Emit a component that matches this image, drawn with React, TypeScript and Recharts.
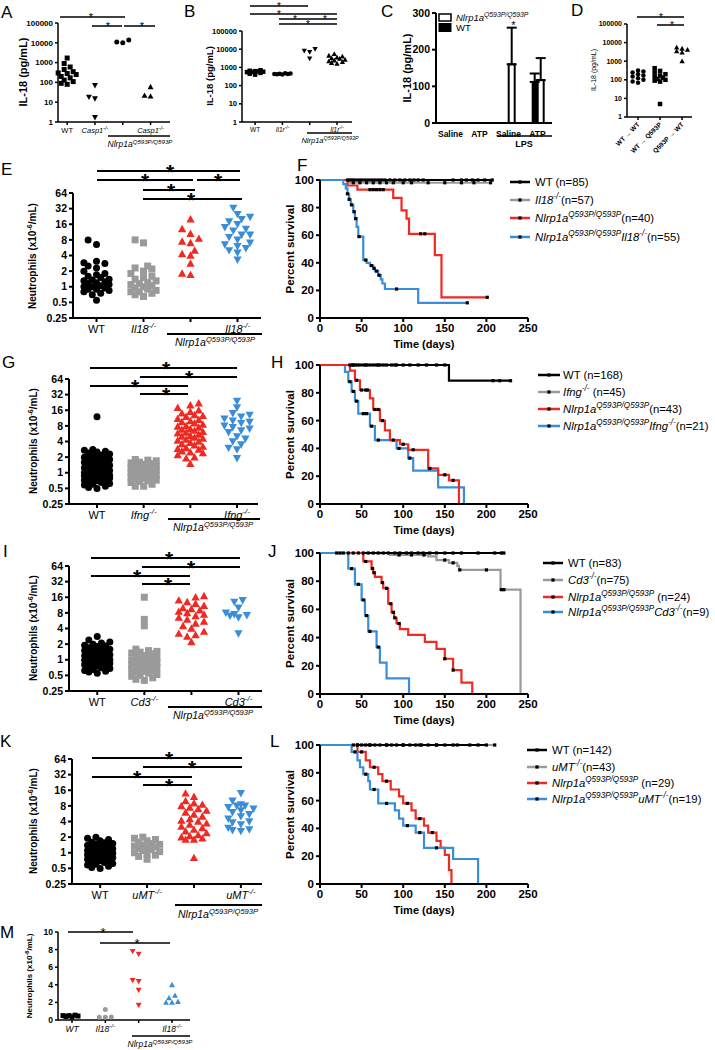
import React from "react";
import {
  ScatterChart,
  Scatter,
  XAxis,
  YAxis,
  BarChart,
  Bar,
  ErrorBar,
  ComposedChart,
  Line,
} from "recharts";

const FONT = "'Liberation Sans', Arial, Helvetica, sans-serif";
const RED = "#ee2a22";
const BLUE = "#3a8ed8";
const GRAY = "#9a9a9a";
const BLACK = "#000";

// ---------- A: serum IL-18 (pg/mL)
const aWT = [1700, 900, 600, 450, 350, 300, 280, 250, 200, 170, 130, 110, 90, 80];
const aCasp1 = [70, 18, 15, 1.7];
const aNlrp = [14000, 10000, 11000];
const aNlrpCasp1 = [60, 20, 22];
const aCats = ["WT", "Casp1^-/-", "", "Casp1^-/-"];

// ---------- B
const bWT = [700, 650, 620, 600, 580, 560, 550, 500, 450, 400];
const bIl1r = [480, 460, 450, 440, 430, 420, 410];
const bNlrp = [8000, 7000, 10000, 3000];
const bNlrpIl1r = [5500, 4500, 4000, 3500, 3200, 3000, 2700, 2400, 2000, 1800, 1600, 2200];
const bCats = ["WT", "Il1r^-/-", "", "Il1r^-/-"];

// ---------- C: bars
const cCats = ["Saline", "ATP", "Saline", "ATP"];
const cWT = [0, 0, 0, 112];
const cWTErr = [0, 0, 0, 23];
const cNlrp = [0, 0, 160, 117];
const cNlrpErr = [0, 0, 100, 60];

// ---------- D
const dWTtoWT = [320, 280, 250, 200, 170, 150, 120, 100, 80, 70];
const dWTtoQ = [420, 300, 250, 200, 170, 150, 130, 110, 100, 90, 80, 5];
const dQtoWT = [5500, 4800, 4200, 3500, 3000, 1000];
const dCats = ["WT \u2192 WT", "WT \u2192 Q593P", "Q593P \u2192 WT"];

// ---------- E: neutrophils
const eWT = [8, 6.5, 3.1, 2.9, 2.8, 2.5, 2.3, 2, 1.8, 1.7, 1.6, 1.5, 1.4, 1.35, 1.3, 1.25, 1.2, 1.15, 1.1, 1.05, 1, 1, 0.95, 0.9, 0.9, 0.85, 0.8, 0.75, 0.7, 0.55];
const eIl18 = [8, 7, 2.5, 2.3, 2.2, 2, 1.8, 1.6, 1.5, 1.4, 1.3, 1.2, 1.15, 1.1, 1.05, 1, 0.95, 0.9, 0.85, 0.8, 0.8, 0.75, 0.7, 0.65];
const eNlrp = [20, 13, 10.5, 8.5, 7.5, 7, 5, 4.3, 4, 2.8, 1.7, 1.8];
const eNlrpIl18 = [33, 25, 22, 20, 18, 16, 14, 13, 12, 10, 10, 9, 8, 7, 6.5, 6, 5.5, 5, 4.5, 3.3];
const eCats = ["WT", "Il18^-/-", "", "Il18^-/-"];

// ---------- G
const gWT = [12, 2.8, 2.7, 2.6, 2.5, 2.4, 2.3, 2.2, 2.1, 2, 2, 1.9, 1.8, 1.8, 1.7, 1.6, 1.6, 1.5, 1.5, 1.4, 1.4, 1.3, 1.3, 1.25, 1.2, 1.2, 1.15, 1.1, 1.1, 1.05, 1, 1, 1, 0.95, 0.95, 0.9, 0.9, 0.88, 0.85, 0.82, 0.8, 0.8, 0.78, 0.75, 0.72, 0.7, 0.7, 0.68, 0.65, 0.62, 0.6, 0.58, 0.55, 0.52, 0.5];
const gIfng = [1.8, 1.75, 1.7, 1.6, 1.55, 1.5, 1.45, 1.4, 1.35, 1.3, 1.25, 1.2, 1.2, 1.15, 1.1, 1.1, 1.05, 1, 1, 0.98, 0.95, 0.92, 0.9, 0.88, 0.85, 0.82, 0.8, 0.78, 0.75, 0.72, 0.7, 0.68, 0.65, 0.6, 0.55, 0.55];
const gNlrp = [22, 20, 18, 16, 15, 14, 13, 12.5, 12, 11, 10.5, 10, 9.5, 9, 8.5, 8, 7.8, 7.5, 7, 6.8, 6.5, 6.2, 6, 5.8, 5.5, 5.2, 5, 4.8, 4.6, 4.4, 4.2, 4, 3.8, 3.6, 3.4, 3.2, 3, 2.9, 2.8, 2.6, 2.5, 2.4, 2.2, 2, 1.9, 1.5];
const gNlrpIfng = [24, 18, 14, 13, 12, 11, 10, 9.5, 9, 8, 7.5, 7, 6.5, 6, 5, 4.5, 4, 3.5, 3, 2.8, 1.9];
const gCats = ["WT", "Ifng^-/-", "", "Ifng^-/-"];

// ---------- I
const iWT = [2.8, 2.4, 2.2, 2.1, 2, 1.9, 1.85, 1.8, 1.7, 1.65, 1.6, 1.55, 1.5, 1.45, 1.4, 1.35, 1.3, 1.25, 1.2, 1.2, 1.15, 1.1, 1.1, 1.05, 1, 1, 0.98, 0.95, 0.92, 0.9, 0.88, 0.85, 0.82, 0.8, 0.78, 0.75, 0.72, 0.7, 0.68, 0.65, 0.62, 0.6, 0.58, 0.55];
const iCd3 = [16, 6, 4.5, 1.6, 1.5, 1.45, 1.4, 1.35, 1.3, 1.2, 1.2, 1.15, 1.1, 1.05, 1, 1, 0.95, 0.9, 0.9, 0.88, 0.85, 0.8, 0.8, 0.78, 0.75, 0.72, 0.7, 0.68, 0.65, 0.62, 0.6, 0.58, 0.55, 0.52, 0.5, 0.48, 0.45, 0.42, 0.4];
const iNlrp = [17, 16, 14, 13, 12, 11, 10, 9.5, 9, 8.5, 8, 7.5, 7, 6.5, 6, 5.5, 5, 4.5, 4, 3.5, 3.2, 3, 2.8, 2.2];
const iNlrpCd3 = [14, 13, 10, 8, 7.5, 7, 6.5, 7.2, 3.2];
const iCats = ["WT", "Cd3^-/-", "", "Cd3^-/-"];

// ---------- K
const kWT = [2, 1.9, 1.8, 1.7, 1.6, 1.55, 1.5, 1.45, 1.4, 1.35, 1.3, 1.25, 1.2, 1.2, 1.15, 1.1, 1.1, 1.05, 1, 1, 0.98, 0.95, 0.92, 0.9, 0.88, 0.85, 0.82, 0.8, 0.78, 0.75, 0.72, 0.7, 0.68, 0.65, 0.62, 0.6, 0.58, 0.55, 0.52, 0.5];
const kUMT = [2, 1.9, 1.8, 1.7, 1.6, 1.5, 1.45, 1.4, 1.35, 1.3, 1.25, 1.2, 1.15, 1.1, 1.05, 1, 0.95, 0.9, 0.85, 0.75];
const kNlrp = [14, 12, 10, 9, 8.5, 8, 7.5, 7, 6.5, 6, 5.5, 5, 4.5, 4.2, 4, 3.7, 3.5, 3.2, 3, 2.8, 2.6, 2.4, 2.2, 2.1, 2, 1.9, 1.8, 1.8, 0.8];
const kNlrpUMT = [14, 10, 8.5, 8, 8, 7.5, 7, 6.5, 6, 5.5, 5, 4.5, 4, 3.8, 3.5, 3, 2.8, 2.7, 2.6];
const kCats = ["WT", "uMT^-/-", "", "uMT^-/-"];

// ---------- M (linear)
const mWT = [0.55, 0.5, 0.45, 0.4, 0.5, 0.35];
const mIl18 = [1.2, 0.3, 0.35, 0.3];
const mNlrp = [7.8, 7.5, 4.5, 4.4, 3.4, 1.7];
const mNlrpIl18 = [4, 2.8, 2.5, 2.0, 2.0, 2.1];
const mCats = ["WT", "Il18^-/-", "", "Il18^-/-"];

// ---------- survival curves (time in days, percent survival, censored times)
const fWT = { t: [0, 207], s: [100, 100], c: [33, 36, 39, 42, 46, 50, 54, 58, 62, 66, 70, 74, 78, 84, 90, 96, 102, 108, 113, 118, 124, 160, 170, 176, 183, 190, 198, 207] };
const fIl18 = { t: [0, 34, 205], s: [100, 98, 98], c: [40, 48, 56, 64, 72, 80, 88, 100, 110, 130, 150, 170, 185, 205] };
const fNlrp = { t: [0, 33, 45, 88, 98, 104, 107, 138, 146, 201], s: [100, 96, 93, 87, 78, 72, 61, 45.5, 15, 15], c: [60, 64, 68, 72, 76, 121, 126, 201] };
const fNlrpIl18 = { t: [0, 28, 31, 33, 35, 37, 40, 42, 44, 46, 52, 56, 60, 64, 66, 70, 73, 75, 78, 118, 177], s: [100, 97, 94, 90, 86, 82, 77, 72, 66, 59, 42, 40, 38, 36, 34, 31, 28, 25, 21, 11, 11], c: [33, 35, 38, 41, 43, 47, 55, 62, 65, 68, 71, 92, 177] };

const hWT = { t: [0, 155, 229], s: [100, 88.7, 88.7], c: [36, 39, 42, 45, 48, 52, 56, 60, 64, 68, 72, 76, 80, 86, 92, 100, 108, 118, 128, 140, 150, 208, 216, 229] };
const hIfng = { t: [0, 90], s: [100, 100], c: [40, 55, 70, 90] };
const hNlrp = { t: [0, 36, 42, 48, 60, 64, 72, 78, 84, 96, 106, 130, 142, 155, 167], s: [100, 96, 89, 82, 76, 68, 60, 53, 46, 43, 39, 25.6, 21, 17, 0], c: [44, 50, 55, 57, 66, 70, 75, 88, 100, 112, 132, 150, 160] };
const hNlrpIfng = { t: [0, 30, 34, 38, 42, 46, 60, 66, 92, 106, 112, 142, 173], s: [100, 95, 88, 81, 74, 65, 56, 46, 40, 33, 24, 12, 0], c: [36, 40, 44, 52, 56, 62, 70, 95, 108] };

const jWT = { t: [0, 221], s: [100, 100], c: [20, 24, 28, 34, 40, 46, 52, 58, 64, 70, 76, 82, 90, 96, 104, 110, 118, 124, 132, 140, 150, 160, 170, 190, 210, 218, 221] };
const jCd3 = { t: [0, 84, 130, 140, 155, 165, 167, 217, 241], s: [100, 98.6, 97.6, 95, 93, 90.8, 88, 74, 0], c: [95, 110, 125, 150, 160, 168, 200, 218, 221] };
const jNlrp = { t: [0, 52, 62, 64, 66, 74, 76, 82, 86, 89, 92, 96, 106, 126, 140, 150, 160, 170, 183], s: [100, 94, 89, 86, 83, 79, 75, 64, 58, 54, 50, 46, 42, 37, 32, 25, 17, 8, 0], c: [55, 63, 65, 75, 80, 85, 88, 90, 95, 150, 160] };
const jNlrpCd3 = { t: [0, 34, 42, 50, 54, 58, 68, 72, 80, 107], s: [100, 88.9, 77.8, 66.7, 55.6, 44.4, 33.3, 22.2, 11.1, 0], c: [38, 46, 52, 56, 60, 70] };

const lWT = { t: [0, 200], s: [100, 100], c: [40, 45, 50, 55, 60, 66, 72, 80, 86, 92, 100, 108, 115, 122, 130, 140, 150, 165, 180, 200] };
const lUMT = { t: [0, 210], s: [100, 100], c: [45, 60, 80, 100, 120, 140, 160, 190, 210] };
const lNlrp = { t: [0, 45, 55, 60, 70, 75, 85, 95, 100, 110, 115, 125, 130, 140, 145, 150, 155, 158], s: [100, 95, 89, 84, 79, 74, 68, 63, 58, 53, 47, 42, 37, 31, 26, 21, 10, 0], c: [50, 65, 80, 105, 120, 135] };
const lNlrpUMT = { t: [0, 38, 45, 48, 52, 58, 60, 70, 90, 95, 100, 115, 125, 160, 190], s: [100, 95, 89, 84, 79, 74, 68, 58, 53, 47, 42, 37, 26, 18, 0], c: [42, 55, 65, 80, 105, 120, 140] };

// ---------- helpers
type Seg = { t: string; i?: boolean; sup?: boolean };
const NL: Seg[] = [
  { t: "Nlrp1a", i: true },
  { t: "Q593P/Q593P", i: true, sup: true },
];
const KO = (g: string): Seg[] => [
  { t: g, i: true },
  { t: "-/-", i: true, sup: true },
];
const segsOf = (s: string, italic: boolean): Seg[] => {
  const [a, b] = s.split("^");
  const r: Seg[] = [{ t: a, i: italic }];
  if (b) r.push({ t: b, i: italic, sup: true });
  return r;
};

function Rich({ x, y, segs, size, anchor = "middle", weight = "normal", rotate }: any) {
  let up = false;
  const parts = segs.map((s: Seg, k: number) => {
    let dy = 0;
    if (s.sup && !up) dy = -size * 0.4;
    if (!s.sup && up) dy = size * 0.4;
    up = !!s.sup;
    return (
      <tspan key={k} dy={dy} fontStyle={s.i ? "italic" : "normal"} fontSize={s.sup ? size * 0.72 : size}>
        {s.t}
      </tspan>
    );
  });
  return (
    <text
      x={x}
      y={y}
      textAnchor={anchor}
      fontSize={size}
      fontWeight={weight}
      fontFamily={FONT}
      fill="#000"
      transform={rotate ? `rotate(${rotate} ${x} ${y})` : undefined}
    >
      {parts}
    </text>
  );
}

type Shape = "circle" | "square" | "up" | "down";
function mark(shape: Shape, color: string, size: number) {
  return (p: any) => {
    const x = p.cx + (p.payload?.dx ?? 0);
    const y = p.cy;
    const r = size / 2;
    if (shape === "circle") return <circle cx={x} cy={y} r={r} fill={color} />;
    if (shape === "square") return <rect x={x - r} y={y - r} width={size} height={size} fill={color} />;
    const t = r * 1.18;
    if (shape === "up")
      return <polygon points={`${x},${y - t} ${x - t},${y + t * 0.8} ${x + t},${y + t * 0.8}`} fill={color} />;
    return <polygon points={`${x},${y + t} ${x - t},${y - t * 0.8} ${x + t},${y - t * 0.8}`} fill={color} />;
  };
}

// horizontal spread so that markers with similar values sit side by side
function swarm(vals: number[], toPx: (v: number) => number, size: number, maxHalf: number) {
  const idx = vals.map((_, i) => i).sort((a, b) => vals[a] - vals[b]);
  const placed: [number, number][] = [];
  const out = vals.map(() => 0);
  const step = size * 0.6;
  const minD = size * 0.92;
  for (const i of idx) {
    const y = toPx(vals[i]);
    let best = 0;
    let bestD = -1;
    for (let k = 0; k < 80; k++) {
      const off = k === 0 ? 0 : (k % 2 ? -1 : 1) * Math.ceil(k / 2) * step;
      if (Math.abs(off) > maxHalf) break;
      let d = Infinity;
      for (const [px, py] of placed) d = Math.min(d, Math.hypot(px - off, py - y));
      if (d >= minD) {
        best = off;
        break;
      }
      if (d > bestD) {
        bestD = d;
        best = off;
      }
    }
    out[i] = best;
    placed.push([best, y]);
  }
  return out;
}

const AX = { stroke: "#000", strokeWidth: 2 };
const AXs = { stroke: "#000", strokeWidth: 1.5 };
const LOG_IL = [1, 10, 100, 1000, 10000, 100000];
const LOG_N = [0.25, 0.5, 1, 2, 4, 8, 16, 32, 64];

const dotPanels: any[] = [
  {
    id: "A", left: 58, top: 23, w: 112, h: 99, log: true, domain: [1, 100000], ticks: LOG_IL, xDomain: [0.67, 4.7],
    tickFont: 8, catFont: 7.5, size: 5, yw: 40, spread: 10, ax: AXs, italic: true, xh: 30,
    cats: aCats,
    groups: [
      { v: aWT, color: BLACK, shape: "square" },
      { v: aCasp1, color: BLACK, shape: "down" },
      { v: aNlrp, color: BLACK, shape: "circle" },
      { v: aNlrpCasp1, color: BLACK, shape: "up" },
    ],
  },
  {
    id: "B", left: 242, top: 31, w: 110, h: 91, log: true, domain: [1, 100000], ticks: LOG_IL, xDomain: [0.52, 4.55],
    tickFont: 7.5, catFont: 6.5, size: 4.5, yw: 40, spread: 10, ax: AXs, italic: true, xh: 30,
    cats: bCats,
    groups: [
      { v: bWT, color: BLACK, shape: "square" },
      { v: bIl1r, color: BLACK, shape: "circle" },
      { v: bNlrp, color: BLACK, shape: "down" },
      { v: bNlrpIl1r, color: BLACK, shape: "up" },
    ],
  },
  {
    id: "D", left: 627, top: 24, w: 65, h: 93, log: true, domain: [1, 100000], ticks: LOG_IL, xDomain: [0.5, 3.45],
    tickFont: 7, catFont: 6.5, size: 4.5, yw: 34, spread: 8, ax: AXs, rotate: true, italic: false, xh: 60,
    cats: dCats,
    groups: [
      { v: dWTtoWT, color: BLACK, shape: "circle" },
      { v: dWTtoQ, color: BLACK, shape: "square" },
      { v: dQtoWT, color: BLACK, shape: "up" },
    ],
  },
  {
    id: "E", left: 73, top: 193, w: 188, h: 125, log: true, domain: [0.25, 64], ticks: LOG_N, xDomain: [0.5, 4.5],
    tickFont: 10.5, catFont: 11, size: 7, yw: 40, spread: 16, ax: AX, italic: true, xh: 30,
    cats: eCats,
    groups: [
      { v: eWT, color: BLACK, shape: "circle" },
      { v: eIl18, color: GRAY, shape: "square" },
      { v: eNlrp, color: RED, shape: "up" },
      { v: eNlrpIl18, color: BLUE, shape: "down" },
    ],
  },
  {
    id: "G", left: 69, top: 379, w: 189, h: 125, log: true, domain: [0.25, 64], ticks: LOG_N, xDomain: [0.4, 4.45],
    tickFont: 10.5, catFont: 11, size: 7, yw: 40, spread: 16, ax: AX, italic: true, xh: 30,
    cats: gCats,
    groups: [
      { v: gWT, color: BLACK, shape: "circle" },
      { v: gIfng, color: GRAY, shape: "square" },
      { v: gNlrp, color: RED, shape: "up" },
      { v: gNlrpIfng, color: BLUE, shape: "down" },
    ],
  },
  {
    id: "I", left: 69, top: 566, w: 193, h: 125, log: true, domain: [0.25, 64], ticks: LOG_N, xDomain: [0.4, 4.5],
    tickFont: 10.5, catFont: 11, size: 7, yw: 40, spread: 16, ax: AX, italic: true, xh: 30,
    cats: iCats,
    groups: [
      { v: iWT, color: BLACK, shape: "circle" },
      { v: iCd3, color: GRAY, shape: "square" },
      { v: iNlrp, color: RED, shape: "up" },
      { v: iNlrpCd3, color: BLUE, shape: "down" },
    ],
  },
  {
    id: "K", left: 72, top: 759, w: 190, h: 125, log: true, domain: [0.25, 64], ticks: LOG_N, xDomain: [0.4, 4.45],
    tickFont: 10.5, catFont: 11, size: 7, yw: 40, spread: 16, ax: AX, italic: true, xh: 30,
    cats: kCats,
    groups: [
      { v: kWT, color: BLACK, shape: "circle" },
      { v: kUMT, color: GRAY, shape: "square" },
      { v: kNlrp, color: RED, shape: "up" },
      { v: kNlrpUMT, color: BLUE, shape: "down" },
    ],
  },
  {
    id: "M", left: 58, top: 932, w: 132, h: 88, log: false, domain: [0, 10], ticks: [0, 2, 4, 6, 8, 10], xDomain: [0.58, 4.54],
    tickFont: 8.5, catFont: 8.5, size: 5, yw: 36, spread: 9, ax: AXs, italic: true, xh: 26,
    cats: mCats,
    groups: [
      { v: mWT, color: BLACK, shape: "square" },
      { v: mIl18, color: GRAY, shape: "circle" },
      { v: mNlrp, color: RED, shape: "down" },
      { v: mNlrpIl18, color: BLUE, shape: "up" },
    ],
  },
];

function DotPanel({ c }: any) {
  const T = 8;
  const XH = c.xh;
  const R = 4;
  const [lo, hi] = c.domain;
  const toPx = (v: number) =>
    c.log ? (c.h * (Math.log(v) - Math.log(lo))) / (Math.log(hi) - Math.log(lo)) : (c.h * (v - lo)) / (hi - lo);
  const tickFn = (p: any) => {
    const s = c.cats[Math.round(p.payload.value) - 1];
    if (!s) return <g />;
    const segs = segsOf(s, c.italic && s !== "WT" ? true : c.id === "M");
    if (c.rotate)
      return <Rich x={p.x + 2} y={p.y + 3} segs={segs} size={c.catFont} anchor="end" rotate={-45} weight="bold" />;
    return <Rich x={p.x} y={p.y + c.catFont * 0.78} segs={segs} size={c.catFont} />;
  };
  const tickStyle = { fill: "#000", fontSize: c.tickFont, fontWeight: "bold", fontFamily: FONT };
  return (
    <div style={{ position: "absolute", left: c.left - c.yw, top: c.top - T }}>
      <ScatterChart width={c.yw + c.w + R} height={T + c.h + XH} margin={{ top: T, right: R, bottom: 0, left: 0 }}>
        <XAxis
          type="number"
          dataKey="x"
          domain={c.xDomain}
          ticks={c.groups.map((_: any, i: number) => i + 1)}
          interval={0}
          height={XH}
          axisLine={c.ax}
          tickLine={c.ax}
          tickSize={c.h > 100 ? 4 : 3}
          tick={tickFn}
        />
        <YAxis
          type="number"
          dataKey="y"
          scale={c.log ? "log" : "linear"}
          domain={c.domain}
          ticks={c.ticks}
          interval={0}
          width={c.yw}
          axisLine={c.ax}
          tickLine={c.ax}
          tickSize={c.h > 100 ? 4 : 3}
          tick={tickStyle}
        />
        {c.groups.map((g: any, gi: number) => {
          const dx = swarm(g.v, toPx, c.size, c.spread);
          const data = g.v.map((v: number, i: number) => ({ x: gi + 1, y: v, dx: dx[i] }));
          return <Scatter key={gi} data={data} shape={mark(g.shape, g.color, c.size)} isAnimationActive={false} />;
        })}
      </ScatterChart>
    </div>
  );
}

function BarPanel() {
  const L = 436;
  const TOP = 13;
  const W = 116;
  const H = 110;
  const YW = 34;
  const T = 8;
  const XH = 20;
  const R = 4;
  const data = cCats.map((cat, i) => ({
    id: i,
    cat,
    wt: cWT[i],
    wtE: [0, cWTErr[i]],
    nl: cNlrp[i],
    nlE: [0, cNlrpErr[i]],
  }));
  return (
    <div style={{ position: "absolute", left: L - YW, top: TOP - T }}>
      <BarChart
        width={YW + W + R}
        height={T + H + XH}
        data={data}
        margin={{ top: T, right: R, bottom: 0, left: 0 }}
        barCategoryGap="30%"
        barGap={0}
      >
        <XAxis
          dataKey="id"
          tickFormatter={(v: number) => cCats[v]}
          interval={0}
          height={XH}
          axisLine={AX}
          tickLine={false}
          tick={{ fill: "#000", fontSize: 8.5, fontWeight: "bold", fontFamily: FONT }}
        />
        <YAxis
          type="number"
          domain={[0, 300]}
          ticks={[0, 100, 200, 300]}
          interval={0}
          width={YW}
          axisLine={AX}
          tickLine={AX}
          tickSize={4}
          tick={{ fill: "#000", fontSize: 10.5, fontWeight: "bold", fontFamily: FONT }}
        />
        <Bar dataKey="wt" fill="#000" isAnimationActive={false}>
          <ErrorBar dataKey="wtE" width={5} stroke="#000" strokeWidth={2} direction="y" isAnimationActive={false} />
        </Bar>
        <Bar dataKey="nl" fill="#fff" stroke="#000" strokeWidth={2} isAnimationActive={false}>
          <ErrorBar dataKey="nlE" width={5} stroke="#000" strokeWidth={2} direction="y" isAnimationActive={false} />
        </Bar>
      </BarChart>
    </div>
  );
}

function kmData(c: any) {
  const pts: any[] = c.t.map((t: number, i: number) => ({ t, s: c.s[i], cen: false }));
  c.c.forEach((ct: number) => {
    let s = c.s[0];
    c.t.forEach((t: number, i: number) => {
      if (t <= ct) s = c.s[i];
    });
    pts.push({ t: ct, s, cen: true });
  });
  return pts.sort((a, b) => a.t - b.t || (a.cen ? 1 : 0) - (b.cen ? 1 : 0));
}

const censorDot = (p: any) =>
  p.payload?.cen ? (
    <rect key={`c${p.index}`} x={p.cx - 1.6} y={p.cy - 1.6} width={3.2} height={3.2} fill="#000" />
  ) : (
    <g key={`n${p.index}`} />
  );

const kmPanels = [
  { id: "F", top: 180, h: 138, curves: [{ d: fWT, color: BLACK }, { d: fIl18, color: GRAY }, { d: fNlrp, color: RED }, { d: fNlrpIl18, color: BLUE }] },
  { id: "H", top: 365, h: 139, curves: [{ d: hIfng, color: GRAY }, { d: hWT, color: BLACK }, { d: hNlrpIfng, color: BLUE }, { d: hNlrp, color: RED }] },
  { id: "J", top: 553, h: 141, curves: [{ d: jCd3, color: GRAY }, { d: jWT, color: BLACK }, { d: jNlrp, color: RED }, { d: jNlrpCd3, color: BLUE }] },
  { id: "L", top: 745, h: 139, curves: [{ d: lUMT, color: GRAY }, { d: lWT, color: BLACK }, { d: lNlrp, color: RED }, { d: lNlrpUMT, color: BLUE }] },
];

function KMPanel({ k }: any) {
  const L = 320;
  const W = 208;
  const YW = 40;
  const T = 8;
  const XH = 24;
  const R = 10;
  const tickStyle = { fill: "#000", fontSize: 11.5, fontWeight: "bold", fontFamily: FONT };
  return (
    <div style={{ position: "absolute", left: L - YW, top: k.top - T }}>
      <ComposedChart width={YW + W + R} height={T + k.h + XH} margin={{ top: T, right: R, bottom: 0, left: 0 }}>
        <XAxis
          type="number"
          dataKey="t"
          domain={[0, 250]}
          ticks={[0, 50, 100, 150, 200, 250]}
          interval={0}
          height={XH}
          axisLine={AX}
          tickLine={AX}
          tickSize={4}
          tick={tickStyle}
        />
        <YAxis
          type="number"
          domain={[0, 100]}
          ticks={[0, 20, 40, 60, 80, 100]}
          interval={0}
          width={YW}
          axisLine={AX}
          tickLine={AX}
          tickSize={4}
          tick={tickStyle}
        />
        {k.curves.map((c: any, i: number) => (
          <Line
            key={i}
            data={kmData(c.d)}
            dataKey="s"
            type="stepAfter"
            stroke={c.color}
            strokeWidth={2.2}
            dot={censorDot}
            activeDot={false}
            isAnimationActive={false}
          />
        ))}
      </ComposedChart>
    </div>
  );
}

// ---------- annotations
const sigs: [number, number, number, number[], number][] = [
  [60, 125, 17, [91], 11],
  [92, 122, 26, [108], 11],
  [124, 155, 26, [142], 11],
  [250, 308, 6, [279], 10],
  [250, 337, 14, [279], 10],
  [279, 337, 19, [295, 325], 10],
  [279, 337, 24, [308], 10],
  [637, 684, 17, [661], 10],
  [657, 684, 25, [672], 10],
  [97, 240, 171, [170], 21],
  [97, 193, 180, [145], 21],
  [197, 240, 180, [218], 21],
  [143, 195, 190, [171], 21],
  [143, 242, 199, [191], 21],
  [90, 237, 368, [166], 21],
  [140, 237, 377, [189], 21],
  [90, 188, 386, [135], 21],
  [140, 188, 394, [166], 21],
  [91, 240, 558, [169], 21],
  [142, 240, 567, [191], 21],
  [91, 190, 576, [137], 21],
  [142, 190, 584, [168], 21],
  [92, 242, 758, [169], 21],
  [143, 242, 767, [192], 21],
  [92, 192, 777, [137], 21],
  [143, 192, 785, [169], 21],
  [68, 133, 932, [103], 13],
  [100, 170, 943, [137], 13],
];

// underline x1, x2, y, label x, label baseline, font
const unders: [number, number, number, number, number, number][] = [
  [108, 170, 136, 140, 147, 8.5],
  [307, 352, 133, 330, 143, 7.5],
  [167, 262, 334, 215, 346, 10.5],
  [168, 260, 519, 213, 531, 10.5],
  [168, 262, 707, 213, 719, 10.5],
  [175, 262, 905, 218, 918, 10.5],
  [132, 190, 1036, 160, 1047, 8.5],
];

const letters: [string, number, number][] = [
  ["A", 1, 18], ["B", 184, 17], ["C", 381, 17], ["D", 571, 16],
  ["E", 1, 175], ["F", 297, 171], ["G", 2, 368], ["H", 271, 368],
  ["I", 3, 557], ["J", 268, 557], ["K", 0, 747], ["L", 270, 747], ["M", 0, 938],
];

const NEUT: Seg[] = [{ t: "Neutrophils (x10" }, { t: "-6", sup: true }, { t: "/mL)" }];

const legends = [
  { x1: 510, x2: 530, tx: 535, rows: [182, 200, 218, 237], items: [[{ t: "WT (n=85)" }], [...KO("Il18"), { t: "(n=57)" }], [...NL, { t: "(n=40)" }], [...NL, ...KO("Il18"), { t: "(n=55)" }]] },
  { x1: 538, x2: 560, tx: 563, rows: [375, 392, 409, 426], items: [[{ t: "WT (n=168)" }], [...KO("Ifng"), { t: " (n=45)" }], [...NL, { t: "(n=43)" }], [...NL, ...KO("Ifng"), { t: "(n=21)" }]] },
  { x1: 543, x2: 563, tx: 568, rows: [563, 580, 597, 612], items: [[{ t: "WT (n=83)" }], [...KO("Cd3"), { t: "(n=75)" }], [...NL, { t: " (n=24)" }], [...NL, ...KO("Cd3"), { t: "(n=9)" }]] },
  { x1: 527, x2: 547, tx: 552, rows: [750, 767, 783, 799], items: [[{ t: "WT (n=142)" }], [...KO("uMT"), { t: "(n=43)" }], [...NL, { t: " (n=29)" }], [...NL, ...KO("uMT"), { t: "(n=19)" }]] },
];
const legColors = [BLACK, GRAY, RED, BLUE];

function Overlay() {
  return (
    <svg width={715} height={1050} style={{ position: "absolute", left: 0, top: 0, pointerEvents: "none" }}>
      {letters.map(([t, x, y]) => (
        <text key={t} x={x} y={y} fontSize={17} fontFamily={FONT} fill="#000">
          {t}
        </text>
      ))}
      {sigs.map(([x1, x2, y, stars, fs], i) => (
        <g key={`s${i}`}>
          <line x1={x1} x2={x2} y1={y} y2={y} stroke="#000" strokeWidth={fs > 15 ? 2 : 1.5} />
          {stars.map((sx, j) => (
            <text
              key={j}
              x={sx}
              y={y + fs * 0.4}
              textAnchor="middle"
              fontSize={fs}
              fontWeight={fs > 15 ? "bold" : "normal"}
              fontFamily={FONT}
              fill="#000"
            >
              *
            </text>
          ))}
        </g>
      ))}
      {unders.map(([x1, x2, y, lx, ly, fs], i) => (
        <g key={`u${i}`}>
          <line x1={x1} x2={x2} y1={y} y2={y} stroke="#000" strokeWidth={fs > 9 ? 2 : 1.5} />
          <Rich x={lx} y={ly} segs={NL} size={fs} />
        </g>
      ))}
      {/* panel C extras */}
      <line x1={497} x2={552} y1={136} y2={136} stroke="#000" strokeWidth={1.5} />
      <text x={524} y={147} textAnchor="middle" fontSize={9} fontWeight="bold" fontFamily={FONT}>
        LPS
      </text>
      <text x={513.5} y={29} textAnchor="middle" fontSize={11} fontFamily={FONT}>
        *
      </text>
      <rect x={439} y={14} width={12} height={7} fill="#fff" stroke="#000" strokeWidth={1.5} />
      <rect x={438.5} y={23} width={13} height={9} fill="#000" />
      <Rich x={456} y={21} segs={NL} size={9.5} anchor="start" />
      <text x={456} y={31} fontSize={9.5} fontFamily={FONT}>
        WT
      </text>
      {/* y-axis titles */}
      <text x={27} y={72} transform="rotate(-90 27 72)" textAnchor="middle" fontSize={11} fontWeight="bold" fontFamily={FONT}>
        IL-18 (pg/mL)
      </text>
      <text x={213} y={76} transform="rotate(-90 213 76)" textAnchor="middle" fontSize={9.5} fontWeight="bold" fontFamily={FONT}>
        IL-18 (pg/mL)
      </text>
      <text x={411} y={68} transform="rotate(-90 411 68)" textAnchor="middle" fontSize={11} fontWeight="bold" fontFamily={FONT}>
        IL-18 (pg/mL)
      </text>
      <text x={596} y={70} transform="rotate(-90 596 70)" textAnchor="middle" fontSize={7} fontFamily={FONT}>
        IL-18 (pg/mL)
      </text>
      {[
        [36, 256],
        [37, 441],
        [37, 628],
        [37, 821],
      ].map(([x, y], i) => (
        <Rich key={`n${i}`} x={x} y={y} segs={NEUT} size={10} weight="bold" rotate={-90} />
      ))}
      <Rich x={32} y={976} segs={NEUT} size={8} weight="bold" rotate={-90} />
      {kmPanels.map((k) => (
        <g key={`km${k.id}`}>
          <text
            x={294}
            y={k.top + k.h / 2}
            transform={`rotate(-90 294 ${k.top + k.h / 2})`}
            textAnchor="middle"
            fontSize={11.5}
            fontWeight="bold"
            fontFamily={FONT}
          >
            Percent survival
          </text>
          <text x={424} y={k.top + k.h + 30} textAnchor="middle" fontSize={11} fontWeight="bold" fontFamily={FONT}>
            Time (days)
          </text>
        </g>
      ))}
      {legends.map((lg, li) => (
        <g key={`lg${li}`}>
          {lg.rows.map((ry, r) => (
            <g key={r}>
              <line x1={lg.x1} x2={lg.x2} y1={ry} y2={ry} stroke={legColors[r]} strokeWidth={2.5} />
              <rect x={(lg.x1 + lg.x2) / 2 - 1.6} y={ry - 1.6} width={3.2} height={3.2} fill="#000" />
              <Rich x={lg.tx} y={ry + 4} segs={lg.items[r]} size={11.3} anchor="start" />
            </g>
          ))}
        </g>
      ))}
    </svg>
  );
}

export default function App() {
  return (
    <div
      style={{
        position: "absolute",
        left: 0,
        top: 0,
        width: 715,
        height: 1050,
        background: "#fff",
        overflow: "hidden",
        fontFamily: FONT,
      }}
    >
      {dotPanels.map((c) => (
        <DotPanel key={c.id} c={c} />
      ))}
      <BarPanel />
      {kmPanels.map((k) => (
        <KMPanel key={k.id} k={k} />
      ))}
      <Overlay />
    </div>
  );
}
